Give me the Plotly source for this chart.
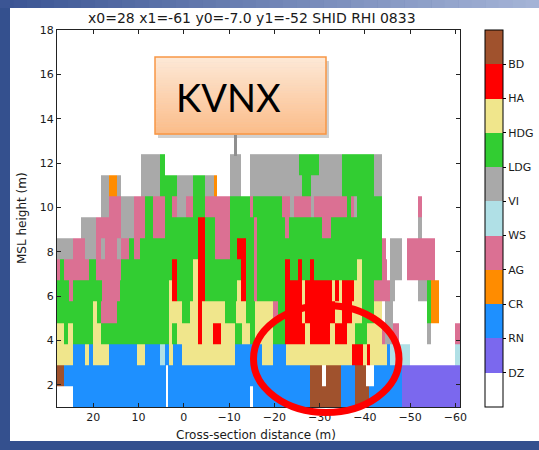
import plotly.graph_objects as go

# ---------------------------------------------------------------------------
# Hydrometeor classes, bottom to top of the colour bar (code 0 = unclassified)
# ---------------------------------------------------------------------------
CLASS_KEYS = ".DRCAWVLhHB"
CLASS_LABELS = ["DZ", "RN", "CR", "AG", "WS", "VI", "LDG", "HDG", "HA", "BD"]
CLASS_COLORS = ["#ffffff", "#7b68ee", "#1e90ff", "#ff8c00", "#db7093", "#b0e0e6",
                "#a9a9a9", "#32cd32", "#f0e68c", "#ff0000", "#a0522d"]

X_START, X_END = 28.0, -61.0          # cross-section distance limits
Y_RANGE = [1.0, 18.0]

# Height edges of the gridded levels
LEVEL_EDGES = [1.0, 1.95, 2.9, 3.85, 4.8, 5.75, 6.7, 7.65, 8.6, 9.55, 10.5, 11.45, 12.4]

# Each level is a list of runs (class key, distance where the run ends),
# starting at x = 28 and moving toward x = -61.
LEVEL_00 = [('.', 24.5), ('R', 3.9), ('.', 3.4), ('R', -14.7), ('.', -15.3), ('R', -27.9),
            ('B', -34.8), ('R', -37.7), ('B', -41.0), ('R', -48.2), ('D', -61)]
LEVEL_01 = [('B', 26.5), ('R', 3.9), ('.', 3.4), ('R', -27.9), ('B', -30.5), ('.', -31.3),
            ('B', -34.8), ('R', -37.7), ('B', -40.2), ('.', -41.9), ('R', -48.2), ('D', -61)]
LEVEL_02 = [('h', 24.5), ('R', 21.9), ('h', 21.0), ('R', 20.1), ('h', 16.6), ('R', 10.3),
            ('h', 8.5), ('R', 5.2), ('W', 4.1), ('R', 3.3), ('h', 2.3), ('R', 0.4), ('h', -11.4),
            ('R', -17.2), ('h', -19.8), ('R', -22.5), ('h', -37.1), ('H', -39.5), ('h', -40.4),
            ('H', -41.2), ('h', -44.8), ('R', -45.6), ('W', -50.0), ('.', -60.0), ('W', -61)]
LEVEL_03 = [('h', 26.5), ('L', 25.6), ('h', 24.5), ('L', 20.1), ('h', 18.2), ('L', 3.3),
            ('h', 2.5), ('L', 1.5), ('h', -3.1), ('H', -4.0), ('h', -6.5), ('H', -8.3),
            ('h', -11.4), ('L', -12.8), ('h', -14.7), ('L', -15.8), ('h', -19.8), ('L', -22.4),
            ('H', -26.8), ('h', -27.9), ('H', -32.3), ('h', -33.4), ('H', -36.0), ('h', -37.9),
            ('L', -40.4), ('h', -43.7), ('A', -44.4), ('V', -46.3), ('A', -47.5), ('.', -53.7),
            ('V', -54.6), ('.', -60.0), ('A', -61)]
LEVEL_04 = [('L', 20.1), ('h', 19.2), ('L', 18.2), ('A', 14.8), ('L', 3.3), ('h', 0.4),
            ('L', -1.4), ('h', -3.1), ('H', -4.0), ('h', -9.0), ('L', -11.5), ('h', -13.7),
            ('L', -15.8), ('h', -19.8), ('A', -20.9), ('L', -22.4), ('H', -26.1), ('h', -26.8),
            ('H', -33.4), ('h', -34.9), ('H', -37.1), ('h', -39.4), ('L', -41.9), ('h', -43.7),
            ('.', -44.4), ('V', -46.3), ('.', -53.7), ('L', -54.6), ('C', -56.3), ('.', -61)]
LEVEL_05 = [('L', 25.4), ('A', 24.5), ('L', 18.1), ('A', 14.0), ('L', 3.3), ('h', 2.5),
            ('H', 1.5), ('L', -2.0), ('h', -3.1), ('H', -4.7), ('L', -11.7), ('h', -12.7),
            ('H', -13.7), ('L', -15.4), ('A', -16.2), ('L', -22.4), ('H', -26.1), ('h', -26.8),
            ('H', -32.7), ('h', -33.4), ('H', -34.2), ('h', -34.9), ('H', -37.5), ('h', -39.4),
            ('L', -41.9), ('A', -45.6), ('V', -46.7), ('.', -51.8), ('V', -53.7), ('L', -54.6),
            ('C', -56.3), ('.', -61)]
LEVEL_06 = [('A', 27.3), ('L', 26.5), ('A', 21.0), ('L', 19.3), ('A', 13.9), ('L', 2.5),
            ('H', 1.5), ('L', -2.0), ('h', -3.1), ('H', -4.7), ('L', -12.7), ('H', -13.7),
            ('L', -15.4), ('A', -16.2), ('L', -22.4), ('H', -23.5), ('L', -25.3), ('H', -26.1),
            ('L', -27.9), ('H', -28.8), ('L', -38.2), ('h', -39.4), ('L', -43.7), ('A', -44.8),
            ('.', -45.6), ('V', -48.3), ('.', -49.3), ('A', -55.4), ('.', -61)]
LEVEL_07 = [('V', 24.5), ('A', 21.8), ('V', 19.3), ('A', 18.2), ('V', 17.3), ('A', 14.8),
            ('V', 13.9), ('A', 12.2), ('L', 11.1), ('A', 9.6), ('L', -3.1), ('H', -4.7),
            ('L', -6.8), ('A', -10.3), ('L', -11.7), ('H', -13.7), ('L', -15.4), ('A', -16.2),
            ('L', -43.7), ('A', -44.7), ('.', -45.6), ('V', -48.3), ('.', -49.3), ('A', -55.4),
            ('.', -61)]
LEVEL_08 = [('.', 22.8), ('V', 19.3), ('A', 13.9), ('V', 11.1), ('A', 8.5), ('L', 6.7),
            ('A', 4.1), ('L', -3.1), ('H', -4.7), ('L', -6.8), ('A', -10.3), ('L', -15.4),
            ('A', -16.2), ('L', -22.4), ('A', -23.2), ('L', -30.6), ('A', -32.5), ('L', -43.7),
            ('.', -51.8), ('V', -52.6), ('.', -61)]
LEVEL_09 = [('.', 18.2), ('V', 16.6), ('A', 13.9), ('V', 11.1), ('A', 8.5), ('L', 6.7),
            ('A', 4.1), ('L', 2.5), ('A', 1.5), ('V', -0.5), ('A', -2.0), ('L', -4.7),
            ('A', -10.3), ('L', -14.7), ('A', -15.3), ('L', -21.7), ('A', -23.4), ('V', -24.4),
            ('A', -28.1), ('V', -28.8), ('A', -36.0), ('L', -37.0), ('A', -37.6), ('V', -38.3),
            ('L', -43.7), ('.', -51.8), ('A', -52.6), ('.', -61)]
LEVEL_10 = [('.', 18.2), ('V', 16.6), ('C', 14.8), ('V', 13.9), ('.', 9.4), ('V', 5.2),
            ('L', 1.5), ('V', -2.0), ('L', -4.7), ('V', -6.6), ('C', -7.3), ('.', -10.3),
            ('V', -12.7), ('.', -14.7), ('V', -26.0), ('L', -28.0), ('V', -34.9), ('L', -41.9),
            ('V', -43.7), ('.', -61)]
LEVEL_11 = [('.', 9.4), ('V', 5.2), ('L', 4.1), ('.', -10.3), ('V', -12.7), ('.', -14.7),
            ('V', -25.4), ('L', -29.8), ('V', -34.9), ('L', -41.9), ('V', -43.7), ('.', -61)]

LEVELS = [LEVEL_00, LEVEL_01, LEVEL_02, LEVEL_03, LEVEL_04, LEVEL_05,
          LEVEL_06, LEVEL_07, LEVEL_08, LEVEL_09, LEVEL_10, LEVEL_11]

TITLE = "x0=28 x1=-61 y0=-7.0 y1=-52 SHID RHI 0833"
X_LABEL = "Cross-section distance (m)"
Y_LABEL = "MSL height (m)"
CALLOUT = "KVNX"

# ---------------------------------------------------------------------------
# Expand the runs onto a common set of column edges
# ---------------------------------------------------------------------------
bounds = {X_START, X_END}
for runs in LEVELS:
    for _, end in runs:
        bounds.add(float(end))
x_edges = sorted(bounds)
mids = [(a + b) / 2 for a, b in zip(x_edges[:-1], x_edges[1:])]


def class_code(runs, x):
    start = X_START
    for key, end in runs:
        if end <= x <= start:
            return CLASS_KEYS.index(key)
        start = end
    return 0


z = [[class_code(runs, m) for m in mids] for runs in LEVELS]

n_cls = len(CLASS_COLORS)
colorscale = []
for k, c in enumerate(CLASS_COLORS):
    colorscale += [[k / n_cls, c], [(k + 1) / n_cls, c]]

# ---------------------------------------------------------------------------
# Page geometry (pixels) and helpers to place decorations in paper space
# ---------------------------------------------------------------------------
W, H = 539, 450
PL, PR, PT, PB = 57, 460, 30, 407


def fx(px):
    return (px - PL) / (PR - PL)


def fy(py):
    return (PB - py) / (PB - PT)


def mix(c1, c2, t):
    a = [int(c1[i:i + 2], 16) for i in (1, 3, 5)]
    b = [int(c2[i:i + 2], 16) for i in (1, 3, 5)]
    return "#" + "".join(f"{round(u + (v - u) * t):02x}" for u, v in zip(a, b))


TICK_FONT = dict(family="DejaVu Sans", size=11, color="#1a1a1a")

fig = go.Figure(go.Heatmap(
    x=x_edges, y=LEVEL_EDGES, z=z,
    zmin=-0.5, zmax=n_cls - 0.5,
    colorscale=colorscale, hoverinfo="skip",
    colorbar=dict(
        x=fx(485), xanchor="left", xpad=0,
        y=0.5, yanchor="middle", ypad=0, len=1, lenmode="fraction",
        thickness=18, outlinecolor="#000000", outlinewidth=1,
        tickvals=[k + 0.5 for k in range(len(CLASS_LABELS))],
        ticktext=CLASS_LABELS, ticks="outside", ticklen=3, tickcolor="#000000",
        tickfont=TICK_FONT,
    ),
))

axis_common = dict(
    showgrid=False, zeroline=False, showline=True, linecolor="#222222", linewidth=1,
    mirror="ticks", ticks="inside", ticklen=4, tickcolor="#222222", tickfont=TICK_FONT,
)
fig.update_xaxes(range=[X_START, X_END], tickvals=[20, 10, 0, -10, -20, -30, -40, -50, -60],
                 **axis_common)
fig.update_yaxes(range=Y_RANGE, tickvals=list(range(2, 19, 2)), **axis_common)

shapes = []
# slide-style frame: white panel on a blue backdrop with a shaded top band
shapes.append(dict(type="rect", xref="paper", yref="paper", layer="below",
                   x0=fx(10), x1=fx(W + 5), y0=fy(441), y1=fy(8),
                   fillcolor="#ffffff", line=dict(width=0)))
n_band = 40
for i in range(n_band):
    shapes.append(dict(type="rect", xref="paper", yref="paper", layer="below",
                       x0=fx(W * i / n_band), x1=fx(W * (i + 1) / n_band + 0.5),
                       y0=fy(8), y1=fy(-2),
                       fillcolor=mix("#3b5594", "#a4b3d6", i / (n_band - 1)),
                       line=dict(width=0)))

# callout box: soft shadow, vertical orange gradient, orange border
bx0, bx1, by0, by1 = 155, 326, 57, 134
shapes.append(dict(type="rect", xref="paper", yref="paper", layer="above",
                   x0=fx(bx0 + 3), x1=fx(bx1 + 3), y0=fy(by1 + 4), y1=fy(by0 + 4),
                   fillcolor="rgba(0,0,0,0.18)", line=dict(width=0)))
n_grad = 30
for i in range(n_grad):
    ya = by0 + (by1 - by0) * i / n_grad
    yb = by0 + (by1 - by0) * (i + 1) / n_grad
    shapes.append(dict(type="rect", xref="paper", yref="paper", layer="above",
                       x0=fx(bx0), x1=fx(bx1), y0=fy(yb + 0.5), y1=fy(ya),
                       fillcolor=mix("#fde8d6", "#fbbd8a", i / (n_grad - 1)),
                       line=dict(width=0)))
shapes.append(dict(type="rect", xref="paper", yref="paper", layer="above",
                   x0=fx(bx0), x1=fx(bx1), y0=fy(by1), y1=fy(by0),
                   fillcolor="rgba(0,0,0,0)", line=dict(color="#f79646", width=1.5)))
# pointer from the callout down to the echo top
shapes.append(dict(type="line", xref="paper", yref="paper", layer="above",
                   x0=fx(235.5), x1=fx(235.5), y0=fy(by1 + 1), y1=fy(156),
                   line=dict(color="#8f8f8f", width=3)))
# red ring around the hail / big-drop region
shapes.append(dict(type="circle", xref="paper", yref="paper", layer="above",
                   x0=fx(253.5), x1=fx(399), y0=fy(412.5), y1=fy(305.5),
                   line=dict(color="#ff0000", width=7)))

annotations = [
    dict(text=TITLE, xref="paper", yref="paper", x=fx(252), y=fy(18),
         showarrow=False, xanchor="center", yanchor="middle",
         font=dict(family="DejaVu Sans", size=14, color="#1a1a1a")),
    dict(text=X_LABEL, xref="paper", yref="paper", x=fx(256), y=fy(435),
         showarrow=False, xanchor="center", yanchor="middle",
         font=dict(family="DejaVu Sans", size=12, color="#1a1a1a")),
    dict(text=Y_LABEL, xref="paper", yref="paper", x=fx(22), y=fy(218),
         showarrow=False, xanchor="center", yanchor="middle", textangle=-90,
         font=dict(family="DejaVu Sans", size=12, color="#1a1a1a")),
    dict(text=CALLOUT, xref="paper", yref="paper", x=fx(174), y=fy(97),
         showarrow=False, xanchor="left", yanchor="middle",
         font=dict(family="Lato", size=38, color="#000000")),
]

fig.update_layout(
    width=W, height=H,
    margin=dict(l=PL, r=W - PR, t=PT, b=H - PB, pad=0, autoexpand=False),
    paper_bgcolor="#34508e", plot_bgcolor="#ffffff",
    shapes=shapes, annotations=annotations, showlegend=False,
)

fig.write_html("out.html")
